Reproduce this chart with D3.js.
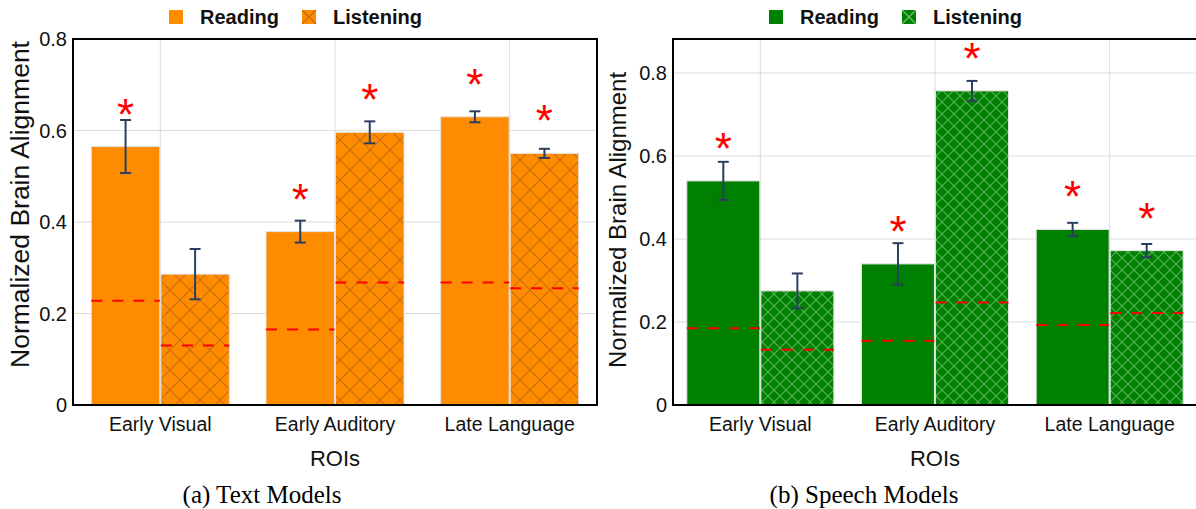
<!DOCTYPE html>
<html>
<head>
<meta charset="utf-8">
<script src="https://cdn.jsdelivr.net/npm/d3@7"></script>
<style>
  html, body { margin: 0; padding: 0; background: #fff; }
  svg { display: block; font-family: "Liberation Sans", Arial, sans-serif; }
</style>
</head>
<body>
<div id="chart"></div>
<script>
// ROIs on the x axis
const rois = ["Early Visual", "Early Auditory", "Late Language"];
const series = ["Reading", "Listening"];

// (a) Text models
const textReading = [0.565, 0.379, 0.630];
const textReadingErr = [0.058, 0.024, 0.012];
const textReadingSig = [true, true, true];
const textListening = [0.286, 0.596, 0.550];
const textListeningErr = [0.055, 0.024, 0.010];
const textListeningSig = [false, true, true];
const textReadingBaseline = [0.228, 0.165, 0.268];
const textListeningBaseline = [0.130, 0.268, 0.255];
const textTicks = [0, 0.2, 0.4, 0.6, 0.8];

// (b) Speech models
const speechReading = [0.540, 0.340, 0.423];
const speechReadingErr = [0.046, 0.050, 0.016];
const speechReadingSig = [true, true, true];
const speechListening = [0.275, 0.757, 0.372];
const speechListeningErr = [0.042, 0.024, 0.016];
const speechListeningSig = [false, true, true];
const speechReadingBaseline = [0.185, 0.155, 0.193];
const speechListeningBaseline = [0.133, 0.247, 0.222];
const speechTicks = [0, 0.2, 0.4, 0.6, 0.8];

const width = 1196;
const height = 509;

const svg = d3.select("#chart").append("svg")
    .attr("width", width)
    .attr("height", height)
    .attr("viewBox", [0, 0, width, height]);

const defs = svg.append("defs");

// hatch patterns for the Listening bars
function makePattern(id, base, line, size)
{
    const p = defs.append("pattern")
        .attr("id", id)
        .attr("patternUnits", "userSpaceOnUse")
        .attr("width", size)
        .attr("height", size);
    p.append("rect").attr("width", size).attr("height", size).attr("fill", base);
    p.append("path")
        .attr("d", `M0,0L${size},${size}M${size},0L0,${size}`)
        .attr("stroke", line)
        .attr("stroke-width", 1.2)
        .attr("fill", "none");
}
makePattern("hatch-orange", "#ff8c00", "rgba(150,80,20,0.5)", 20);
makePattern("hatch-green", "#008000", "rgba(140,210,140,0.6)", 12);

function drawPanel(cfg)
{
    const { left, right, top, bottom, yMax, ticks, color, hatch, groupWidth } = cfg;

    const x = d3.scalePoint().domain(rois).range([left, right]).padding(0.5);
    const xInner = d3.scaleBand().domain(series).range([-groupWidth / 2, groupWidth / 2]).paddingInner(0.015);
    const y = d3.scaleLinear().domain([0, yMax]).range([bottom, top]);

    const g = svg.append("g");

    // grid lines
    g.append("g")
        .selectAll("line")
        .data(ticks.filter(t => t > 0))
        .join("line")
        .attr("x1", left).attr("x2", right)
        .attr("y1", d => y(d)).attr("y2", d => y(d))
        .attr("stroke", "#dcdcdc")
        .attr("stroke-width", 1);

    g.append("g")
        .selectAll("line")
        .data(rois)
        .join("line")
        .attr("x1", d => x(d)).attr("x2", d => x(d))
        .attr("y1", top).attr("y2", bottom)
        .attr("stroke", "#dcdcdc")
        .attr("stroke-width", 1);

    // build bar records
    const bars = [];
    rois.forEach((roi, i) => {
        bars.push({ roi, s: "Reading", v: cfg.reading[i], e: cfg.readingErr[i], b: cfg.readingBase[i], sig: cfg.readingSig[i] });
        bars.push({ roi, s: "Listening", v: cfg.listening[i], e: cfg.listeningErr[i], b: cfg.listeningBase[i], sig: cfg.listeningSig[i] });
    });

    const bx = d => x(d.roi) + xInner(d.s);
    const cx = d => bx(d) + xInner.bandwidth() / 2;

    g.append("g")
        .selectAll("rect")
        .data(bars)
        .join("rect")
        .attr("x", bx)
        .attr("y", d => y(d.v))
        .attr("width", xInner.bandwidth())
        .attr("height", d => y(0) - y(d.v))
        .attr("fill", d => d.s === "Reading" ? color : `url(#${hatch})`)
        .attr("stroke", "#e2e2e2")
        .attr("stroke-width", 1);

    // dashed baseline per bar
    g.append("g")
        .selectAll("line")
        .data(bars)
        .join("line")
        .attr("x1", bx)
        .attr("x2", d => bx(d) + xInner.bandwidth())
        .attr("y1", d => y(d.b)).attr("y2", d => y(d.b))
        .attr("stroke", "#ff0000")
        .attr("stroke-width", 2)
        .attr("stroke-dasharray", "11,10");

    // error bars
    const eb = g.append("g")
        .selectAll("g")
        .data(bars)
        .join("g")
        .attr("stroke", "#2a3f5f")
        .attr("stroke-width", 2);
    eb.append("line")
        .attr("x1", cx).attr("x2", cx)
        .attr("y1", d => y(d.v + d.e)).attr("y2", d => y(d.v - d.e));
    eb.append("line")
        .attr("x1", d => cx(d) - 5.5).attr("x2", d => cx(d) + 5.5)
        .attr("y1", d => y(d.v + d.e)).attr("y2", d => y(d.v + d.e));
    eb.append("line")
        .attr("x1", d => cx(d) - 5.5).attr("x2", d => cx(d) + 5.5)
        .attr("y1", d => y(d.v - d.e)).attr("y2", d => y(d.v - d.e));

    // significance stars
    g.append("g")
        .selectAll("text")
        .data(bars.filter(d => d.sig))
        .join("text")
        .attr("x", cx)
        .attr("y", d => y(d.v) - 17)
        .attr("text-anchor", "middle")
        .attr("fill", "#ff0000")
        .style("font-size", "44px")
        .text("*");

    // frame
    g.append("rect")
        .attr("x", left).attr("y", top)
        .attr("width", right - left).attr("height", bottom - top)
        .attr("fill", "none")
        .attr("stroke", "#000")
        .attr("stroke-width", 2);

    // y tick labels
    g.append("g")
        .selectAll("text")
        .data(ticks)
        .join("text")
        .attr("x", left - 6)
        .attr("y", d => y(d))
        .attr("dy", "0.35em")
        .attr("text-anchor", "end")
        .attr("fill", "#111")
        .style("font-size", "20px")
        .text(d => d === 0 ? "0" : d3.format(".1f")(d));

    // x category labels
    g.append("g")
        .selectAll("text")
        .data(rois)
        .join("text")
        .attr("x", d => x(d))
        .attr("y", bottom + 26)
        .attr("text-anchor", "middle")
        .attr("fill", "#111")
        .style("font-size", "19.5px")
        .text(d => d);

    // axis titles
    g.append("text")
        .attr("x", (left + right) / 2)
        .attr("y", bottom + 61)
        .attr("text-anchor", "middle")
        .attr("fill", "#111")
        .style("font-size", "22px")
        .text("ROIs");

    g.append("text")
        .attr("transform", `translate(${cfg.titleX}, ${bottom - 37}) rotate(-90)`)
        .attr("text-anchor", "start")
        .attr("fill", "#111")
        .style("font-size", cfg.titleSize + "px")
        .text("Normalized Brain Alignment");

    // legend
    const lg = g.append("g");
    lg.append("rect")
        .attr("x", cfg.legendX).attr("y", 10)
        .attr("width", 14).attr("height", 14)
        .attr("fill", color);
    lg.append("text")
        .attr("x", cfg.legendX + 31).attr("y", 24)
        .attr("fill", "#111")
        .style("font-size", "20px").style("font-weight", "bold")
        .text("Reading");
    lg.append("rect")
        .attr("x", cfg.legendX + 133).attr("y", 10)
        .attr("width", 14).attr("height", 14)
        .attr("fill", color);
    lg.append("path")
        .attr("d", `M${cfg.legendX + 133},10l14,14M${cfg.legendX + 147},10l-14,14`)
        .attr("stroke", cfg.hatchLine)
        .attr("stroke-width", 1.2);
    lg.append("text")
        .attr("x", cfg.legendX + 164).attr("y", 24)
        .attr("fill", "#111")
        .style("font-size", "20px").style("font-weight", "bold")
        .text("Listening");

    // caption
    svg.append("text")
        .attr("x", cfg.captionX)
        .attr("y", 503)
        .attr("text-anchor", "middle")
        .attr("fill", "#000")
        .style("font-family", "'Liberation Serif', 'Times New Roman', serif")
        .style("font-size", "25px")
        .text(cfg.caption);
}

drawPanel({
    left: 73, right: 597, top: 39, bottom: 405, yMax: 0.8, ticks: textTicks,
    color: "#ff8c00", hatch: "hatch-orange", hatchLine: "rgba(150,80,20,0.6)", groupWidth: 138,
    reading: textReading, readingErr: textReadingErr, readingBase: textReadingBaseline, readingSig: textReadingSig,
    listening: textListening, listeningErr: textListeningErr, listeningBase: textListeningBaseline, listeningSig: textListeningSig,
    titleX: 29, titleSize: 26.5, legendX: 169, captionX: 262, caption: "(a) Text Models"
});

drawPanel({
    left: 673, right: 1197, top: 39, bottom: 405, yMax: 0.882, ticks: speechTicks,
    color: "#008000", hatch: "hatch-green", hatchLine: "rgba(140,210,140,0.8)", groupWidth: 147,
    reading: speechReading, readingErr: speechReadingErr, readingBase: speechReadingBaseline, readingSig: speechReadingSig,
    listening: speechListening, listeningErr: speechListeningErr, listeningBase: speechListeningBaseline, listeningSig: speechListeningSig,
    titleX: 626, titleSize: 24, legendX: 769, captionX: 864, caption: "(b) Speech Models"
});
</script>
</body>
</html>
